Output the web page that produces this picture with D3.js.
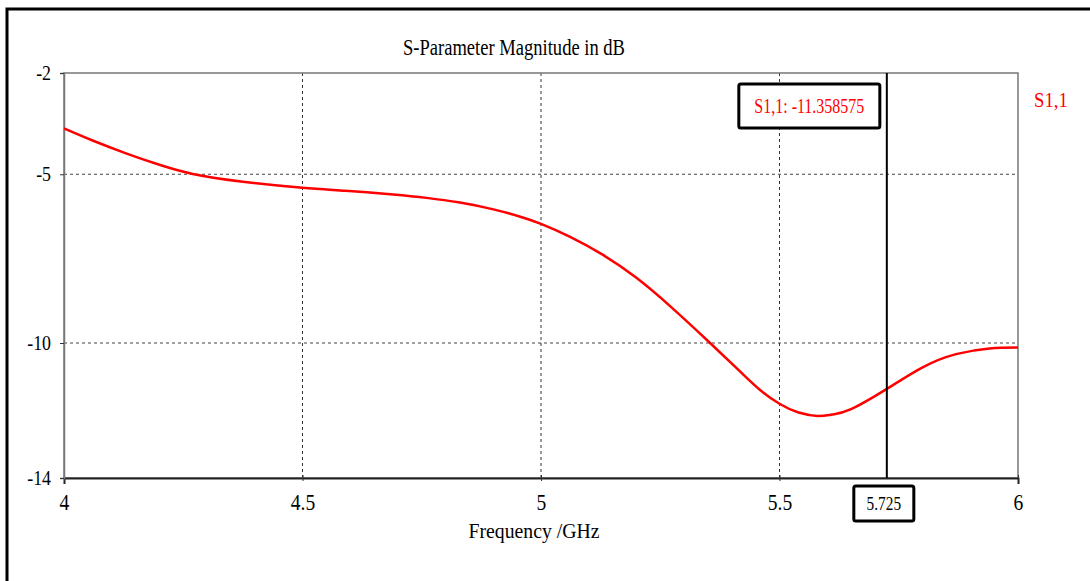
<!DOCTYPE html>
<html>
<head>
<meta charset="utf-8">
<script src="https://cdn.jsdelivr.net/npm/d3@7"></script>
<style>
  body { margin: 0; background: #fff; }
  svg text { font-family: "Liberation Serif", "DejaVu Serif", serif !important; }
</style>
</head>
<body>
<div class="chart"></div>
<script>
// values
const freq = [4.00, 4.06, 4.13, 4.20, 4.27, 4.375, 4.50, 4.59, 4.69, 4.76, 4.83, 4.90, 4.955, 5.00,
              5.06, 5.13, 5.20, 5.27, 5.35, 5.42, 5.46, 5.50, 5.54, 5.58, 5.61, 5.65, 5.725, 5.80, 5.87, 5.94, 6.00];
const s11 = [-3.64, -4.00, -4.38, -4.72, -4.99, -5.22, -5.40, -5.49, -5.60, -5.70, -5.84, -6.04, -6.25, -6.47,
             -6.85, -7.39, -8.07, -8.90, -9.94, -10.88, -11.40, -11.80, -12.06, -12.16, -12.12, -11.96, -11.36, -10.72, -10.33, -10.16, -10.13];
const xTicks = [4, 4.5, 5, 5.5, 6];
const yTicks = [-2, -5, -10, -14];
const markerFreq = 5.725;
const markerValue = -11.358575;
const seriesName = "S1,1";

const W = 1090, H = 581;
const margin = {top: 73, right: 72, bottom: 103, left: 64};
const width = W - margin.left - margin.right,
      height = H - margin.top - margin.bottom;

const serif = '"Liberation Serif", "DejaVu Serif", serif';

const root = d3.select(".chart").append("svg")
    .attr("width", W)
    .attr("height", H);

// outer frame (cropped on right/bottom)
root.append("rect")
    .attr("x", 7).attr("y", 9)
    .attr("width", W + 20).attr("height", H + 20)
    .attr("fill", "#fff")
    .attr("stroke", "#000")
    .attr("stroke-width", 3);

const svg = root.append("g")
    .attr("transform", `translate(${margin.left},${margin.top})`);

const xScale = d3.scaleLinear().domain([4, 6]).range([0, width]);
const yScale = d3.scaleLinear().domain([-14, -2]).range([height, 0]);

// squeeze text horizontally, like the narrow font in the original
function squeeze(sel, k) {
  sel.each(function() {
    const len = this.getComputedTextLength();
    d3.select(this).attr("textLength", len * k).attr("lengthAdjust", "spacingAndGlyphs");
  });
}

// grid
svg.selectAll(".vgrid").data(xTicks.slice(1, -1)).enter().append("line")
    .attr("x1", d => xScale(d)).attr("x2", d => xScale(d))
    .attr("y1", 0).attr("y2", height)
    .attr("stroke", "#333").attr("stroke-dasharray", "3,3");
svg.selectAll(".hgrid").data(yTicks.slice(1, -1)).enter().append("line")
    .attr("x1", 0).attr("x2", width)
    .attr("y1", d => yScale(d)).attr("y2", d => yScale(d))
    .attr("stroke", "#444").attr("stroke-dasharray", "3,3");

// box
svg.append("rect")
    .attr("x", 0).attr("y", 0).attr("width", width).attr("height", height)
    .attr("fill", "none").attr("stroke", "#777").attr("stroke-width", 1.5);

// axes
const xAxis = d3.axisBottom(xScale).tickValues(xTicks).tickSize(6).tickPadding(10).tickFormat(d => String(d));
const yAxis = d3.axisLeft(yScale).tickValues(yTicks).tickSize(4).tickPadding(10).tickFormat(d => String(d));

const xAxisSVG = svg.append("g").attr("transform", `translate(0,${height})`).call(xAxis);
xAxisSVG.attr("font-family", serif);
xAxisSVG.select(".domain").attr("stroke", "#222").attr("stroke-width", 2);
xAxisSVG.selectAll(".tick line").attr("stroke", "#333").attr("transform", "translate(0,-3)");
xAxisSVG.selectAll("text").attr("font-size", 23).attr("fill", "#000")
    .style("font-family", serif).call(squeeze, 0.85);

const yAxisSVG = svg.append("g").call(yAxis);
yAxisSVG.attr("font-family", serif);
yAxisSVG.select(".domain").attr("stroke", "#777").attr("stroke-width", 1.5);
yAxisSVG.selectAll(".tick line").attr("stroke", "#333");
yAxisSVG.selectAll("text").attr("font-size", 21).attr("fill", "#000")
    .style("font-family", serif).attr("x", -13).call(squeeze, 0.85);

// curve
const points = freq.map((f, i) => ({f: f, v: s11[i]}));
const line = d3.line()
    .x(d => xScale(d.f))
    .y(d => yScale(d.v))
    .curve(d3.curveNatural);
svg.append("path")
    .datum(points)
    .attr("d", line)
    .attr("fill", "none")
    .attr("stroke", "#ff0000")
    .attr("stroke-width", 2.5);

// marker line
const mx = xScale(markerFreq);
svg.append("line")
    .attr("x1", mx).attr("x2", mx).attr("y1", 0).attr("y2", height)
    .attr("stroke", "#000").attr("stroke-width", 2);

// marker value box
svg.append("rect")
    .attr("x", mx - 148).attr("y", 11).attr("width", 141).attr("height", 44)
    .attr("rx", 2)
    .attr("fill", "#fff").attr("stroke", "#000").attr("stroke-width", 3);
svg.append("text")
    .attr("x", mx - 77.5).attr("y", 40)
    .attr("text-anchor", "middle")
    .attr("font-size", 20).attr("fill", "#ff0000")
    .style("font-family", serif)
    .text(`${seriesName}: ${markerValue}`)
    .call(squeeze, 0.8);

// marker frequency box
svg.append("rect")
    .attr("x", mx - 33).attr("y", height + 8).attr("width", 60).attr("height", 35)
    .attr("rx", 2)
    .attr("fill", "#fff").attr("stroke", "#000").attr("stroke-width", 3);
svg.append("text")
    .attr("x", mx - 3).attr("y", height + 32)
    .attr("text-anchor", "middle")
    .attr("font-size", 18).attr("fill", "#000")
    .style("font-family", serif)
    .text(markerFreq)
    .call(squeeze, 0.85);

// legend
svg.append("text")
    .attr("x", width + 16).attr("y", 34)
    .attr("font-size", 22).attr("fill", "#ff0000")
    .style("font-family", serif)
    .text(seriesName)
    .call(squeeze, 0.85);

// title
root.append("text")
    .attr("x", 514).attr("y", 55)
    .attr("text-anchor", "middle")
    .attr("font-size", 23).attr("fill", "#000")
    .style("font-family", serif)
    .text("S-Parameter Magnitude in dB")
    .attr("textLength", 222).attr("lengthAdjust", "spacingAndGlyphs");

// x label
root.append("text")
    .attr("x", 534).attr("y", 538)
    .attr("text-anchor", "middle")
    .attr("font-size", 21).attr("fill", "#000")
    .style("font-family", serif)
    .text("Frequency /GHz")
    .attr("textLength", 131).attr("lengthAdjust", "spacingAndGlyphs");
</script>
</body>
</html>
